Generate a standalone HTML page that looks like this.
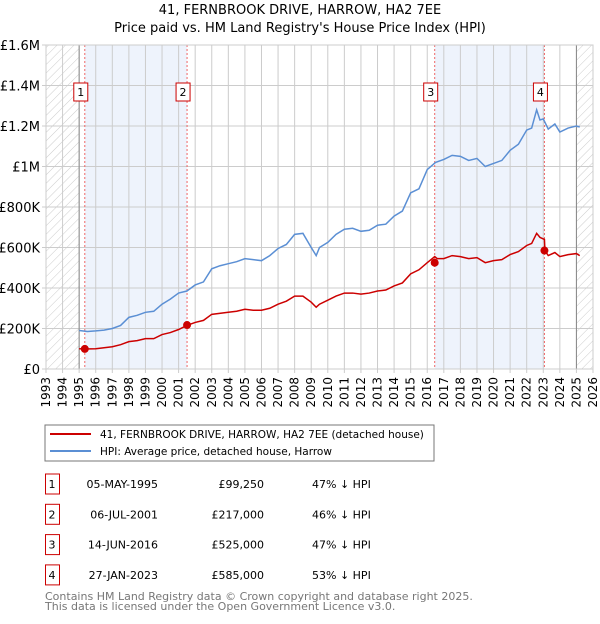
<!DOCTYPE html>
<html><head><meta charset="utf-8"><style>
body{margin:0;background:#fff;font-family:"DejaVu Sans","Liberation Sans",sans-serif;}
svg text{font-family:"DejaVu Sans","Liberation Sans",sans-serif;}
</style></head><body>
<svg id="chart" width="600" height="620" xmlns="http://www.w3.org/2000/svg">
<defs><pattern id="hatch" width="6" height="6" patternUnits="userSpaceOnUse" patternTransform="rotate(45)"><line x1="0" y1="0" x2="0" y2="6" stroke="#ccc" stroke-width="1"/></pattern></defs>
<text x="300" y="14" font-size="13" text-anchor="middle">41, FERNBROOK DRIVE, HARROW, HA2 7EE</text>
<text x="300" y="32" font-size="13" text-anchor="middle">Price paid vs. HM Land Registry's House Price Index (HPI)</text>
<g id="plot"></g>
<g>
<rect x="45" y="425" width="389" height="36" fill="#fff" stroke="#777"/>
<line x1="50" y1="434" x2="91" y2="434" stroke="#cc0000" stroke-width="2"/>
<text x="100" y="438" font-size="10.5">41, FERNBROOK DRIVE, HARROW, HA2 7EE (detached house)</text>
<line x1="50" y1="451" x2="91" y2="451" stroke="#5b8fd4" stroke-width="2"/>
<text x="100" y="455" font-size="10.5">HPI: Average price, detached house, Harrow</text>
</g>
<g id="table" font-size="11"></g>
<text x="45" y="600" font-size="11" fill="#777">Contains HM Land Registry data © Crown copyright and database right 2025.</text>
<text x="45" y="610" font-size="11" fill="#777">This data is licensed under the Open Government Licence v3.0.</text>
</svg>
<script>
const hpiYears=[1995,1995.5,1996,1996.5,1997,1997.5,1998,1998.5,1999,1999.5,2000,2000.5,2001,2001.5,2002,2002.5,2003,2003.5,2004,2004.5,2005,2005.5,2006,2006.5,2007,2007.5,2008,2008.5,2009,2009.3,2009.5,2010,2010.5,2011,2011.5,2012,2012.5,2013,2013.5,2014,2014.5,2015,2015.5,2016,2016.5,2017,2017.5,2018,2018.5,2019,2019.5,2020,2020.5,2021,2021.5,2022,2022.3,2022.6,2022.8,2023,2023.3,2023.7,2024,2024.5,2025,2025.2];
const hpiValues=[190,185,188,192,200,215,255,265,280,285,320,345,375,385,415,430,495,510,520,530,545,540,535,560,595,615,665,670,600,560,600,625,665,690,695,680,685,710,715,755,780,870,890,985,1020,1035,1055,1050,1030,1040,1000,1015,1030,1080,1110,1180,1190,1280,1230,1235,1185,1210,1170,1190,1200,1195];
const ppYears=[1995,1995.35,1996,1997,1997.5,1998,1998.5,1999,1999.5,2000,2000.5,2001,2001.5,2002,2002.5,2003,2004,2004.5,2005,2005.5,2006,2006.5,2007,2007.5,2008,2008.5,2009,2009.3,2009.5,2010,2010.5,2011,2011.5,2012,2012.5,2013,2013.5,2014,2014.5,2015,2015.5,2016,2016.45,2016.6,2017,2017.5,2018,2018.5,2019,2019.5,2020,2020.5,2021,2021.5,2022,2022.3,2022.6,2022.8,2023.07,2023.1,2023.3,2023.7,2024,2024.5,2025,2025.2];
const ppValues=[100,99,100,110,120,135,140,150,150,170,180,195,215,230,240,270,280,285,295,290,290,300,320,335,360,360,330,305,320,340,360,375,375,370,375,385,390,410,425,470,490,525,555,545,545,560,555,545,550,525,535,540,565,580,610,620,670,650,640,585,560,575,555,565,570,560];
const saleYears=[1995.34,2001.51,2016.45,2023.07];
const salePrices=[99.25,217,525,585];
const saleLabels=["1","2","3","4"];
const saleDates=["05-MAY-1995","06-JUL-2001","14-JUN-2016","27-JAN-2023"];
const salePriceText=["£99,250","£217,000","£525,000","£585,000"];
const saleHpiText=["47% ↓ HPI","46% ↓ HPI","47% ↓ HPI","53% ↓ HPI"];
const yTicks=[0,200,400,600,800,1000,1200,1400,1600];
const yTickLabels=["£0","£200K","£400K","£600K","£800K","£1M","£1.2M","£1.4M","£1.6M"];
const xTicks=[];for(let y=1993;y<=2026;y++)xTicks.push(y);

const X0=46,X1=593,Y0=369,Y1=45;
const x=v=>X0+(v-1993)/(2026-1993)*(X1-X0);
const y=v=>Y0-v/1600*(Y0-Y1);
const NS="http://www.w3.org/2000/svg";
const plot=document.getElementById('plot');
function mk(tag,attrs,parent){const e=document.createElementNS(NS,tag);for(const k in attrs)e.setAttribute(k,attrs[k]);(parent||plot).appendChild(e);return e;}
let r;
r=mk('rect',{x:x(1995.34),y:Y1,width:x(2001.51)-x(1995.34),height:Y0-Y1,fill:'#eef3fc'});


r=mk('rect',{x:x(2016.45),y:Y1,width:x(2023.07)-x(2016.45),height:Y0-Y1,fill:'#eef3fc'});


r=mk('rect',{x:X0,y:Y1,width:x(1995)-X0,height:Y0-Y1,fill:'url(#hatch)'});


r=mk('rect',{x:x(2025),y:Y1,width:X1-x(2025),height:Y0-Y1,fill:'url(#hatch)'});


xTicks.forEach(t=>{const l=mk('line',{x1:x(t),x2:x(t),y1:Y1,y2:Y0+4,stroke:'#ccc'});


const tx=x(t)+4;const lb=mk('text',{x:tx,y:Y0+8,'font-size':12,transform:`rotate(-90 ${tx} ${Y0+8})`,'text-anchor':'end'});lb.textContent=t;

});
yTicks.forEach((t,i)=>{const l=mk('line',{x1:X0-4,x2:X1,y1:y(t),y2:y(t),stroke:'#ccc'});


const lb=mk('text',{x:X0-6,y:y(t)+5,'font-size':13,'text-anchor':'end'});lb.textContent=yTickLabels[i];

});
r=mk('line',{x1:x(1995),x2:x(1995),y1:Y1,y2:Y0,stroke:'#888'});


r=mk('line',{x1:x(2025),x2:x(2025),y1:Y1,y2:Y0,stroke:'#888'});


saleYears.forEach((s,i)=>{const l=mk('line',{x1:x(s),x2:x(s),y1:Y1,y2:Y0,stroke:'#e66','stroke-dasharray':'2,2'});


const bx=mk('rect',{x:x(s)-11,y:83,width:14,height:18,fill:'#fff',stroke:'#cc0000'});


const t=mk('text',{x:x(s)-4,y:96,'font-size':11,'text-anchor':'middle'});t.textContent=saleLabels[i];

});
let p=mk('polyline',{points:hpiYears.map((v,i)=>x(v)+','+y(hpiValues[i])).join(' '),fill:'none',stroke:'#5b8fd4','stroke-width':1.5});


p=mk('polyline',{points:ppYears.map((v,i)=>x(v)+','+y(ppValues[i])).join(' '),fill:'none',stroke:'#cc0000','stroke-width':1.5});


saleYears.forEach((s,i)=>{const c=mk('circle',{cx:x(s),cy:y(salePrices[i]),r:4,fill:'#cc0000'});

});
r=mk('rect',{x:X0,y:Y1,width:X1-X0,height:Y0-Y1,fill:'none',stroke:'#ccc'});


const tb=document.getElementById('table');
saleYears.forEach((s,i)=>{const ry=484+i*30.3;
const b=mk('rect',{x:45.5,y:ry-10,width:14,height:20,fill:'#fff',stroke:'#cc0000'},tb);


const vals=[[52,saleLabels[i],'middle'],[158,saleDates[i],'end'],[264,salePriceText[i],'end'],[312,saleHpiText[i],'start']];
vals.forEach(v=>{const t=mk('text',{x:v[0],y:ry+4,'text-anchor':v[2]},tb);t.textContent=v[1];

});});
</script>
</body></html>
